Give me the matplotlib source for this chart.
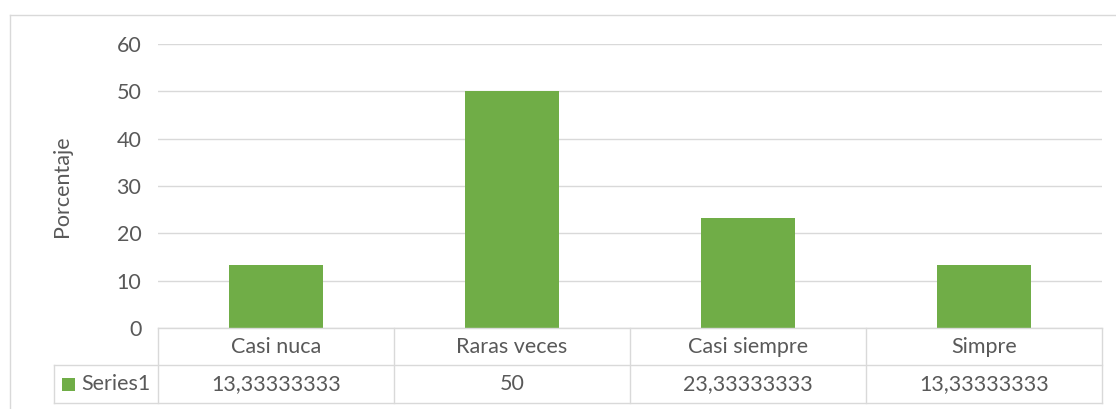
import matplotlib.pyplot as plt
from matplotlib.lines import Line2D
from matplotlib.patches import Rectangle
from matplotlib.transforms import blended_transform_factory

categories = ['Casi nuca', 'Raras veces', 'Casi siempre', 'Simpre']
values = [13.33333333, 50, 23.33333333, 13.33333333]
series_name = 'Series1'
yticks = [0, 10, 20, 30, 40, 50, 60]

W, H = 1116, 409
green = '#70AD47'
txt = '#595959'
grid = '#D9D9D9'
fs = 15.5
plt.rcParams['font.family'] = ['Lato', 'DejaVu Sans']

fig = plt.figure(figsize=(W / 100, H / 100), dpi=100)


def fx(x):
    return x / W


def fy(y):
    return 1 - y / H


def hline(y, x0, x1):
    fig.add_artist(Line2D([fx(x0), fx(x1)], [fy(y), fy(y)], color=grid, lw=1.0))


def vline(x, y0, y1):
    fig.add_artist(Line2D([fx(x), fx(x)], [fy(y0), fy(y1)], color=grid, lw=1.0))


ax = fig.add_axes([fx(158), fy(328), fx(1102) - fx(158), fy(44) - fy(328)])
ax.bar(range(len(values)), values, width=0.4, color=green, zorder=3)
ax.set_xlim(-0.5, len(values) - 0.5)
ax.set_ylim(0, 60)
ax.set_yticks(yticks)
ax.set_xticks([])
ax.grid(axis='y', color=grid, lw=1.0, zorder=0)
for s in ax.spines.values():
    s.set_visible(False)
ax.tick_params(axis='y', length=0, pad=12, labelsize=fs, labelcolor=txt)

# y axis title placed at the reference spot
fig.text(fx(62), fy(186), 'Porcentaje', rotation=90, ha='center', va='center',
         fontsize=fs, color=txt)

# outer chart border
hline(15, 10, W)
vline(10, 15, H)

# data table
hline(328, 158, 1102)
hline(365, 54, 1102)
hline(403, 54, 1102)
vline(54, 365, 403)
for xc in [158, 394, 630, 866, 1102]:
    vline(xc, 328, 403)

tr = blended_transform_factory(ax.transData, fig.transFigure)
for i, (c, v) in enumerate(zip(categories, values)):
    lab = f'{v:.8f}'.rstrip('0').rstrip('.').replace('.', ',')
    ax.text(i, fy(347), c, transform=tr, ha='center', va='center',
            fontsize=fs, color=txt, clip_on=False)
    ax.text(i, fy(384), lab, transform=tr, ha='center', va='center',
            fontsize=fs, color=txt, clip_on=False)

fig.add_artist(Rectangle((fx(62), fy(391)), fx(13), fy(378) - fy(391),
                         transform=fig.transFigure, color=green, lw=0))
fig.text(fx(81), fy(384), series_name, ha='left', va='center',
         fontsize=fs, color=txt)

fig.savefig('out.png', dpi=100)
